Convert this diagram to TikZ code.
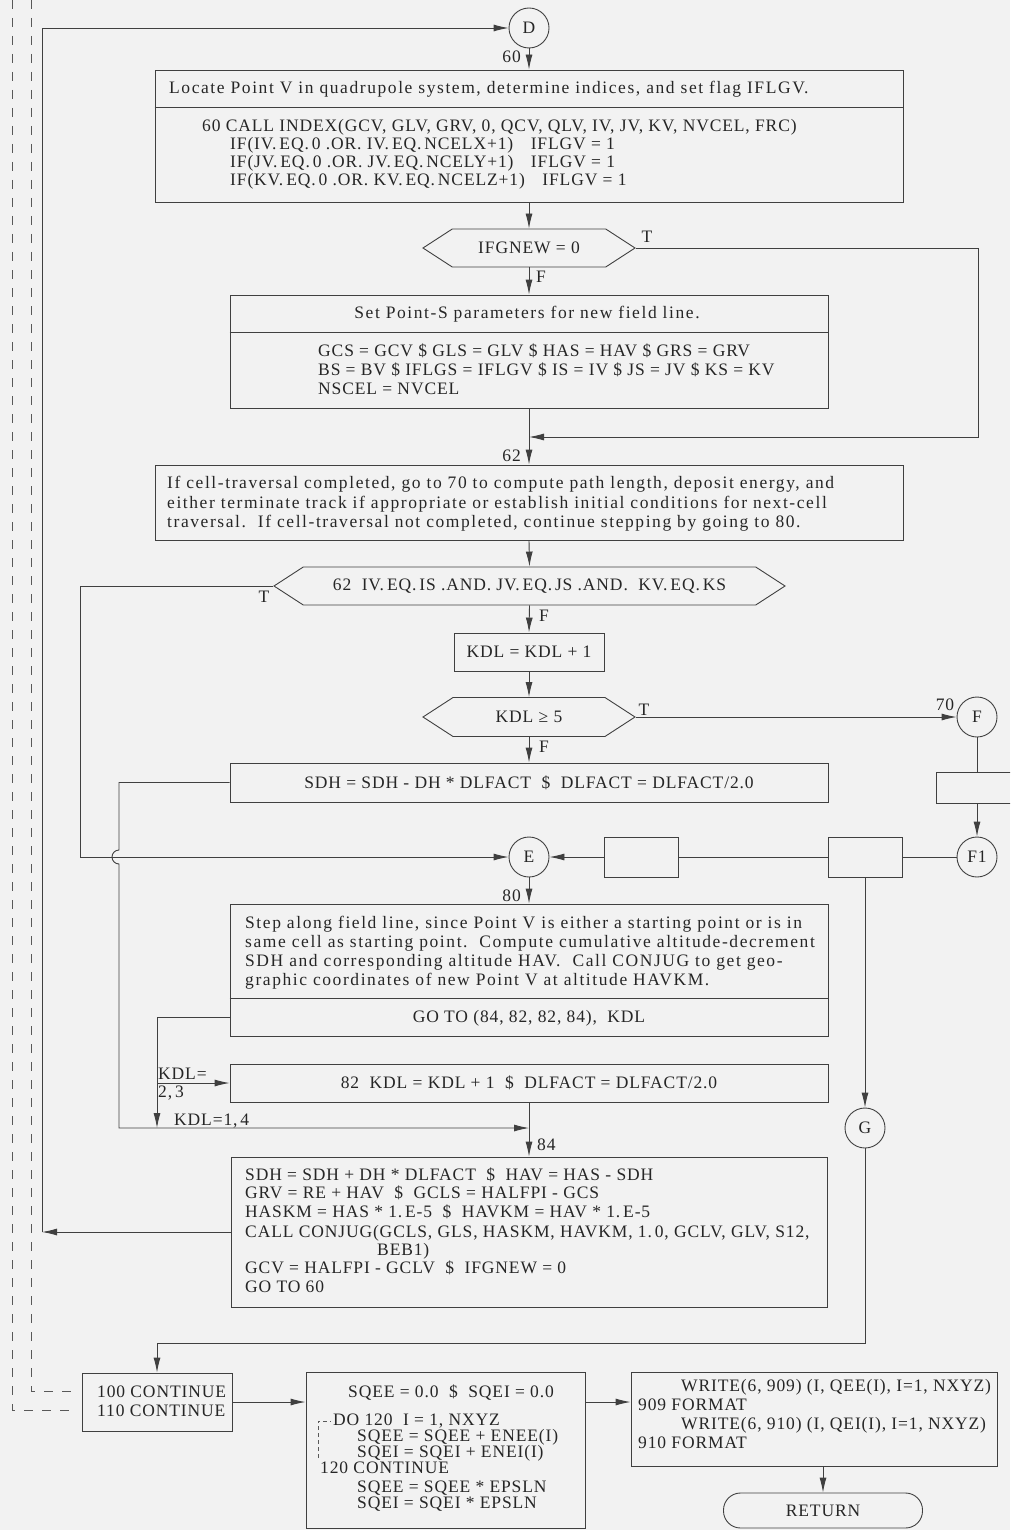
\documentclass[tikz,border=0pt]{standalone}
\usepackage{fontspec}
\setmainfont{Liberation Serif}[LetterSpace=5.0]
\newfontfamily\prosefont{Liberation Serif}[LetterSpace=9.0]
\usetikzlibrary{arrows.meta,shapes.symbols}
\begin{document}
\begin{tikzpicture}[x=1pt,y=-1pt,
  every node/.style={font=\fontsize{17.5}{19}\selectfont, text=black!85},
  prs/.style={font=\fontsize{17.5}{19}\selectfont\prosefont},
  ln/.style={draw=black!75, line width=0.9pt},
  arr/.style={ln, -{Latex[length=15pt,width=7pt]}},
  boxx/.style={ln, rectangle, inner sep=0pt},
  circ/.style={ln, circle, minimum size=40pt, inner sep=0pt},
  hexa/.style={ln, signal, signal to=west and east, signal pointer angle=66, inner sep=0pt},
  txt/.style={anchor=base west, inner sep=0pt},
  lbl/.style={anchor=base, inner sep=0pt},
  dsh/.style={draw=black!65, line width=0.9pt, dash pattern=on 9pt off 9pt},
  dsm/.style={draw=black!65, line width=0.8pt, dash pattern=on 4pt off 3pt}]
\useasboundingbox (0,0) rectangle (1010,1530);
\fill[black!5] (0,0) rectangle (1010,1530);
\clip (0,0) rectangle (1010,1530);

% ---------- nodes ----------
\node[circ] (D) at (529,28) {D};

\node[boxx, minimum width=748pt, minimum height=132pt] (b1) at (529,136) {};
\draw[ln] (b1.west |- 0,107) -- (b1.east |- 0,107);
\node[txt, prs] (t1h) at (169,94) {Locate Point V in quadrupole system, determine indices, and set flag IFLGV.};
\node[txt] (t1a) at (202,132) {60 CALL INDEX(GCV, GLV, GRV, 0, QCV, QLV, IV, JV, KV, NVCEL, FRC)};
\node[txt] (t1b) at (230,150) {IF(IV.\,EQ.\,0 .OR. IV.\,EQ.\,NCELX+1)\quad IFLGV = 1};
\node[txt] (t1c) at (230,168) {IF(JV.\,EQ.\,0 .OR. JV.\,EQ.\,NCELY+1)\quad IFLGV = 1};
\node[txt] (t1d) at (230,186) {IF(KV.\,EQ.\,0 .OR. KV.\,EQ.\,NCELZ+1)\quad IFLGV = 1};

\node[hexa, minimum width=212pt, minimum height=38pt] (h1) at (529,248) {IFGNEW = 0};

\node[boxx, minimum width=598pt, minimum height=113pt] (b2) at (529,351.5) {};
\draw[ln] (b2.west |- 0,332) -- (b2.east |- 0,332);
\node[lbl, prs] (t2h) at (527,318) {Set Point-S parameters for new field line.};
\node[txt] (t2a) at (318,356) {GCS = GCV \$ GLS = GLV \$ HAS = HAV \$ GRS = GRV};
\node[txt] (t2b) at (318,375) {BS = BV \$ IFLGS = IFLGV \$ IS = IV \$ JS = JV \$ KS = KV};
\node[txt] (t2c) at (318,394) {NSCEL = NVCEL};

\coordinate (m62) at (529,437);

\node[boxx, minimum width=748pt, minimum height=75pt] (b3) at (529,502.5) {};
\node[txt, prs] (t3a) at (167,488) {If cell-traversal completed, go to 70 to compute path length, deposit energy, and};
\node[txt, prs] (t3b) at (167,508) {either terminate track if appropriate or establish initial conditions for next-cell};
\node[txt, prs] (t3c) at (167,527) {traversal.\ \ If cell-traversal not completed, continue stepping by going to 80.};

\node[hexa, minimum width=511pt, minimum height=38pt] (h2) at (529.5,586) {62\ \ IV.\,EQ.\,IS .AND. JV.\,EQ.\,JS .AND.\ \ KV.\,EQ.\,KS};

\node[boxx, minimum width=150pt, minimum height=38pt] (k1) at (529,652) {KDL = KDL + 1};

\node[hexa, minimum width=212pt, minimum height=39pt] (h3) at (529,717) {KDL ≥ 5};

\node[boxx, minimum width=598pt, minimum height=39pt] (sdh) at (529,782.5) {SDH = SDH - DH * DLFACT\ \ \$\ \ DLFACT = DLFACT/2.0};

\node[circ] (F) at (977,717) {F};
\node[boxx, minimum width=94pt, minimum height=31pt] (fr) at (983,787.5) {};
\node[circ] (F1) at (977,857) {F1};
\node[boxx, minimum width=74pt, minimum height=40pt] (sb2) at (865,857) {};
\node[boxx, minimum width=74pt, minimum height=40pt] (sb1) at (641,857) {};
\node[circ] (E) at (529,857) {E};

\node[boxx, minimum width=598pt, minimum height=132pt] (b80) at (529,970) {};
\draw[ln] (b80.west |- 0,998) -- (b80.east |- 0,998);
\node[txt, prs] (t8a) at (245,928) {Step along field line, since Point V is either a starting point or is in};
\node[txt, prs] (t8b) at (245,947) {same cell as starting point.\ \ Compute cumulative altitude-decrement};
\node[txt, prs] (t8c) at (245,966) {SDH and corresponding altitude HAV.\ \ Call CONJUG to get geo-};
\node[txt, prs] (t8d) at (245,985) {graphic coordinates of new Point V at altitude HAVKM.};
\node[lbl] (t8e) at (529,1022) {GO TO (84, 82, 82, 84),\ \ KDL};

\node[boxx, minimum width=598pt, minimum height=38pt] (b82) at (529,1083) {82\ \ KDL = KDL + 1\ \ \$\ \ DLFACT = DLFACT/2.0};
\coordinate (m84) at (529,1128);
\coordinate (k23) at (157,1083);

\node[boxx, minimum width=596pt, minimum height=150pt] (b84) at (529,1232) {};
\node[txt] (t4a) at (245,1180) {SDH = SDH + DH * DLFACT\ \ \$\ \ HAV = HAS - SDH};
\node[txt] (t4b) at (245,1198) {GRV = RE + HAV\ \ \$\ \ GCLS = HALFPI - GCS};
\node[txt] (t4c) at (245,1217) {HASKM = HAS * 1.\,E-5\ \ \$\ \ HAVKM = HAV * 1.\,E-5};
\node[txt] (t4d) at (245,1237) {CALL CONJUG(GCLS, GLS, HASKM, HAVKM, 1.\,0, GCLV, GLV, S12,};
\node[txt] (t4e) at (377,1255) {BEB1)};
\node[txt] (t4f) at (245,1273) {GCV = HALFPI - GCLV\ \ \$\ \ IFGNEW = 0};
\node[txt] (t4g) at (245,1292) {GO TO 60};

\node[circ] (G) at (865,1128) {G};

\node[boxx, minimum width=150pt, minimum height=58pt] (b100) at (157,1402) {};
\node[txt] (t0a) at (97,1397) {100 CONTINUE};
\node[txt] (t0b) at (97,1416) {110 CONTINUE};

\node[boxx, minimum width=279pt, minimum height=156pt] (sq) at (445.5,1450) {};
\node[txt] (tsa) at (348,1397) {SQEE = 0.0\ \ \$\ \ SQEI = 0.0};
\node[txt] (tsb) at (333,1425) {DO 120\ \ I = 1, NXYZ};
\node[txt] (tsc) at (357,1441) {SQEE = SQEE + ENEE(I)};
\node[txt] (tsd) at (357,1457) {SQEI = SQEI + ENEI(I)};
\node[txt] (tse) at (320,1473) {120 CONTINUE};
\node[txt] (tsf) at (357,1492) {SQEE = SQEE * EPSLN};
\node[txt] (tsg) at (357,1508) {SQEI = SQEI * EPSLN};
\draw[dsm] (318,1458) -- (318,1421) -- (331,1421);

\node[boxx, minimum width=366pt, minimum height=94pt] (wr) at (814,1419) {};
\node[txt] (twa) at (681,1391) {WRITE(6, 909) (I, QEE(I), I=1, NXYZ)};
\node[txt] (twb) at (638,1410) {909 FORMAT};
\node[txt] (twc) at (681,1429) {WRITE(6, 910) (I, QEI(I), I=1, NXYZ)};
\node[txt] (twd) at (638,1448) {910 FORMAT};

\node[ln, rectangle, rounded corners=17pt, minimum width=199pt, minimum height=35pt, inner sep=0pt] (ret) at (823,1510.5) {RETURN};

% ---------- connectors ----------
\draw[arr] (D.south) -- (b1.north);
\node[lbl, anchor=base east] (l60) at (521,63) {60};
\draw[arr] (b1.south) -- (h1.north);
\draw[arr] (h1.south) -- (b2.north);
\node[lbl] (lF1) at (541,282) {F};
\draw[arr] (h1.east) -- (978,248) -- (978,437) -- (m62);
\node[lbl] (lT1) at (647,243) {T};
\draw[ln] (b2.south) -- (m62);
\draw[arr] (m62) -- (b3.north);
\node[lbl, anchor=base east] (l62) at (521,461) {62};
\draw[arr] (b3.south) -- (h2.north);
\draw[arr] (h2.west) -- (80,586) -- (80,857) -- (E.west);
\node[lbl] (lT2) at (264,602) {T};
\draw[arr] (h2.south) -- (k1.north);
\node[lbl] (lF2) at (544,621) {F};
\draw[arr] (k1.south) -- (h3.north);
\draw[arr] (h3.east) -- (F.west);
\node[lbl] (lT3) at (644,715) {T};
\node[lbl] (l70) at (945,710) {70};
\draw[arr] (h3.south) -- (sdh.north);
\node[lbl] (lF3) at (544,752) {F};
\draw[arr] (sdh.west) -- (119,782.5) -- (119,850) arc[start angle=270, end angle=90, radius=7] -- (119,1128) -- (m84);
\draw[ln] (F.south) -- (F.south |- fr.north);
\draw[arr] (F1.north |- fr.south) -- (F1.north);
\draw[ln] (F1.west) -- (sb2.east);
\draw[ln] (sb2.west) -- (sb1.east);
\draw[arr] (sb1.west) -- (E.east);
\draw[arr] (sb2.south) -- (G.north);
\draw[arr] (E.south) -- (b80.north);
\node[lbl, anchor=base east] (l80) at (521,901) {80};
\draw[ln] (b80.west |- 0,1017) -- (157,1017) -- (k23);
\draw[arr] (k23) -- (b82.west);
\draw[arr] (k23) -- (157,1128);
\node[txt] (lk1) at (158,1079) {KDL=};
\node[txt] (lk2) at (158,1097) {2,\,3};
\node[txt] (lk3) at (174,1125) {KDL=1,\,4};
\draw[ln] (b82.south) -- (m84);
\draw[arr] (m84) -- (b84.north);
\node[txt] (l84) at (537,1150) {84};
\draw[arr] (b84.west) -- (42,1232);
\draw[arr] (42,1232) |- (D.west);
\draw[arr] (G.south) -- (865,1343) -- (157,1343) -- (b100.north);
\draw[arr] (b100.east) -- (b100.east -| sq.west);
\draw[arr] (sq.east |- b100.east) -- (wr.west |- b100.east);
\draw[arr] (wr.south -| ret.north) -- (ret.north);
\coordinate (dA) at (31,0);
\coordinate (dB) at (12,0);
\draw[dsh] (dA) -- (31,1391) -- (76,1391);
\draw[dsh] (dB) -- (12,1410) -- (76,1410);
\end{tikzpicture}
\end{document}
